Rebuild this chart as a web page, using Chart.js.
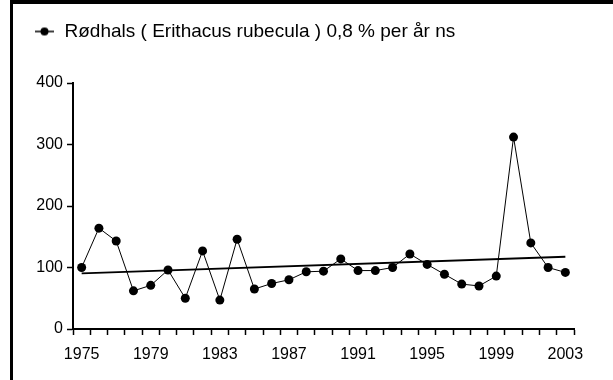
<!DOCTYPE html>
<html>
<head>
<meta charset="utf-8">
<script src="https://cdn.jsdelivr.net/npm/chart.js@4/dist/chart.umd.min.js"></script>
<style>
  html, body { margin: 0; padding: 0; background: #fff; }
  #frame {
    position: absolute; left: 10px; top: 0;
    width: 600px; height: 376px;
    border-left: 3px solid #000; border-top: 4px solid #000;
  }
  #chart { display: block; }
</style>
</head>
<body>
<div id="frame"><canvas id="chart" width="600" height="376"></canvas></div>
<script>
// Årlige indeksværdier for rødhals
const years = ['1975','1976','1977','1978','1979','1980','1981','1982','1983','1984',
               '1985','1986','1987','1988','1989','1990','1991','1992','1993','1994',
               '1995','1996','1997','1998','1999','2000','2001','2002','2003'];
const index = [100, 164, 143, 62, 71, 96, 50, 127, 47, 146,
               65, 74, 80, 93, 94, 114, 95, 95, 100, 122,
               105, 89, 73, 70, 86, 312, 140, 100, 92];

// Trendlinje (endepunkter)
const trendYears = ['1975', '2003'];
const trendValues = [90.5, 117.5];

const yTicks = [0, 100, 200, 300, 400];
const seriesLabel = 'Rødhals ( Erithacus rubecula ) 0,8 % per år ns';

const font = 'Liberation Sans, Arial, sans-serif';

// legend-symbol: streg med prik
const mark = document.createElement('canvas');
mark.width = 24; mark.height = 12;
const m = mark.getContext('2d');
m.strokeStyle = '#000'; m.lineWidth = 1.5;
m.beginPath(); m.moveTo(4, 6); m.lineTo(23, 6); m.stroke();
m.fillStyle = '#000';
m.beginPath(); m.arc(13.5, 6, 4, 0, Math.PI * 2); m.fill();

// ekstra luft under legenden
const legendGap = {
  id: 'legendGap',
  beforeInit(chart) {
    const fit = chart.legend.fit;
    chart.legend.fit = function () {
      fit.bind(chart.legend)();
      this.height += 32;
    };
  }
};

new Chart(document.getElementById('chart'), {
  type: 'line',
  data: {
    labels: years,
    datasets: [{
      label: seriesLabel,
      data: index,
      borderColor: '#000',
      borderWidth: 1,
      backgroundColor: '#000',
      pointRadius: 4.5,
      pointHoverRadius: 4.5,
      pointBackgroundColor: '#000',
      pointBorderWidth: 0,
      tension: 0
    }, {
      label: 'trend',
      data: trendYears.map((x, i) => ({ x: x, y: trendValues[i] })),
      borderColor: '#000',
      borderWidth: 1.8,
      pointRadius: 0,
      tension: 0
    }]
  },
  options: {
    responsive: false,
    animation: false,
    layout: { padding: { top: 0, right: 39, bottom: 0, left: 0 } },
    plugins: {
      tooltip: { enabled: false },
      legend: {
        position: 'top',
        align: 'start',
        labels: {
          filter: item => item.datasetIndex === 0,
          usePointStyle: true,
          pointStyle: mark,
          pointStyleWidth: 24,
          padding: 18,
          color: '#000',
          font: { family: font, size: 19 },
          generateLabels(chart) {
            const items = Chart.defaults.plugins.legend.labels.generateLabels(chart);
            items.forEach(it => { it.pointStyle = mark; });
            return items;
          }
        }
      }
    },
    scales: {
      x: {
        type: 'category',
        offset: true,
        afterFit(scale) { scale.height = 51; },
        grid: {
          offset: true,
          drawOnChartArea: false,
          drawTicks: true,
          tickLength: 6,
          tickColor: '#000',
          tickWidth: 1.5
        },
        border: { color: '#000', width: 2 },
        ticks: {
          autoSkip: false,
          maxRotation: 0,
          padding: 10,
          color: '#000',
          font: { family: font, size: 16 },
          callback(v, i) { return i % 4 === 0 ? years[i] : ''; }
        }
      },
      y: {
        min: 0,
        max: 400,
        afterFit(scale) { scale.width = 60; },
        afterBuildTicks(scale) { scale.ticks = yTicks.map(v => ({ value: v })); },
        grid: {
          drawOnChartArea: false,
          drawTicks: true,
          tickLength: 6,
          tickColor: '#000',
          tickWidth: 1.5
        },
        border: { color: '#000', width: 2 },
        ticks: {
          padding: 4,
          color: '#000',
          font: { family: font, size: 16 }
        }
      }
    }
  },
  plugins: [legendGap]
});
</script>
</body>
</html>
